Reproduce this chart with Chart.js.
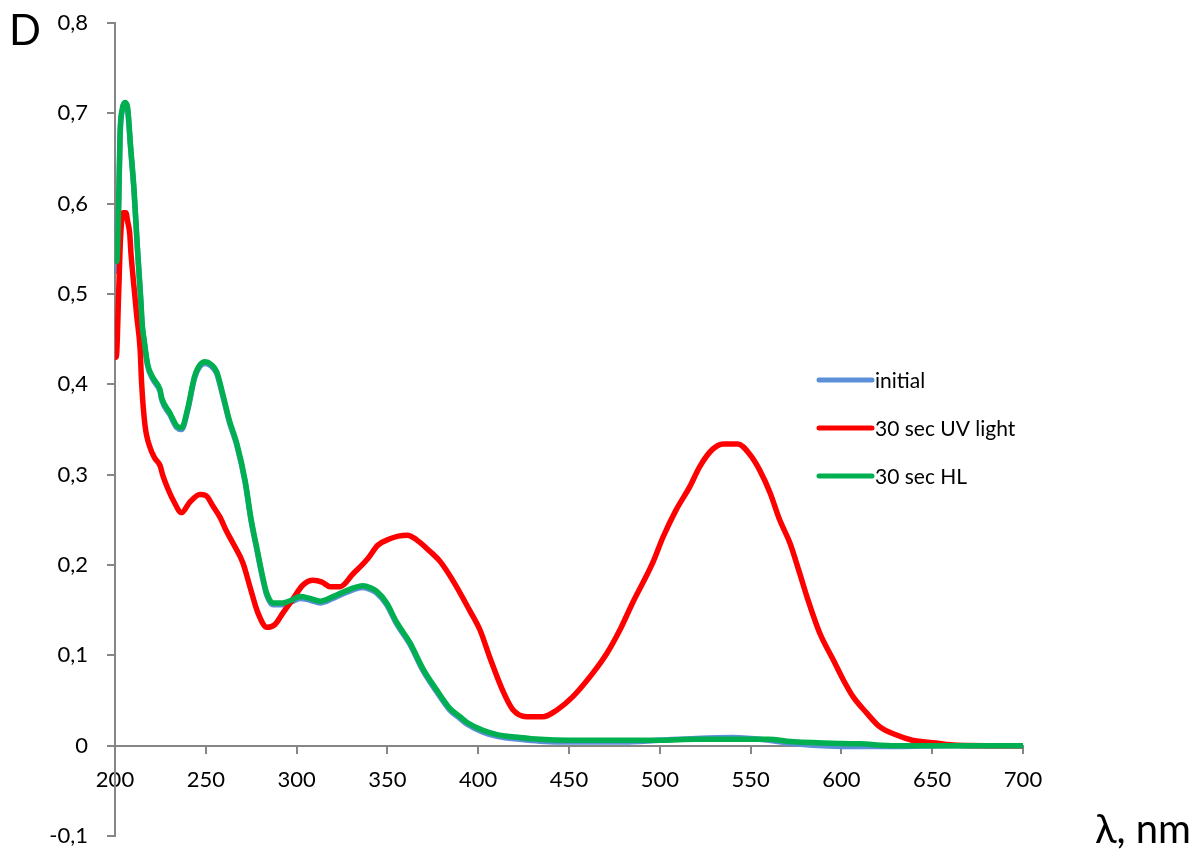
<!DOCTYPE html>
<html lang="en">
<head>
    <meta charset="UTF-8">
    <title>Absorption spectra</title>
    <script src="https://cdn.jsdelivr.net/npm/chart.js"></script>
    <style>
        body { margin: 0; background: #fff; }
        .chart-container { width: 1194px; height: 851px; position: relative; }
    </style>
</head>
<body>
    <div class="chart-container">
        <canvas id="spectraChart"></canvas>
    </div>

    <script>
        // Values (wavelength, nm / optical density D)
        const xTicks = [200, 250, 300, 350, 400, 450, 500, 550, 600, 650, 700];
        const yTicks = [-0.1, 0, 0.1, 0.2, 0.3, 0.4, 0.5, 0.6, 0.7, 0.8];

        const uvWl = [200, 200.7, 202, 203, 204.5, 206, 207, 208.1, 208.8, 210.6, 212, 213.8, 214.7, 216.5, 219.3, 222, 224.8, 226.5, 229, 232, 236.7, 241, 246.8, 250, 254, 257.8, 261.5, 265, 270.5, 274.3, 278.7, 283.7, 288, 292.5, 297.5, 303.6, 309, 314, 318.4, 324, 331, 338.8, 344.8, 351.4, 356, 361, 366, 373.5, 379, 386, 395.5, 401, 406.5, 413.7, 419, 426.7, 435.7, 443, 452, 463, 470.8, 478, 485, 496, 501.8, 509, 516.6, 522, 529, 535, 543, 549.7, 555, 560.7, 566, 571.7, 577, 581, 588, 595.5, 601, 606.5, 614, 621, 630, 639, 652, 660, 680, 700];
        const uvD  = [0.46, 0.43, 0.50, 0.56, 0.59, 0.59, 0.58, 0.567, 0.545, 0.505, 0.475, 0.44, 0.40, 0.355, 0.33, 0.318, 0.31, 0.298, 0.285, 0.272, 0.258, 0.269, 0.278, 0.277, 0.265, 0.253, 0.237, 0.224, 0.202, 0.176, 0.147, 0.131, 0.134, 0.147, 0.161, 0.178, 0.183, 0.181, 0.176, 0.176, 0.19, 0.206, 0.222, 0.229, 0.232, 0.233, 0.228, 0.215, 0.204, 0.183, 0.149, 0.128, 0.097, 0.06, 0.04, 0.032, 0.032, 0.039, 0.054, 0.08, 0.102, 0.128, 0.158, 0.202, 0.231, 0.261, 0.287, 0.309, 0.328, 0.334, 0.334, 0.322, 0.305, 0.28, 0.25, 0.224, 0.191, 0.165, 0.125, 0.095, 0.073, 0.054, 0.036, 0.021, 0.012, 0.006, 0.003, 0.001, 0, 0];

        const hlWl = [200, 201, 202, 202.8, 204, 205.5, 206.8, 208.6, 210.5, 212.3, 214.2, 215, 216, 218, 221, 224.8, 225.7, 230.3, 234, 236.7, 240, 244, 249.5, 253, 256, 259.5, 263, 267, 271.6, 275, 278, 281, 283.5, 287, 292.5, 297, 302, 307.4, 313, 320, 327.8, 336.6, 340.4, 344, 349.6, 355, 362.4, 369.6, 377, 384.5, 390, 393.7, 402.6, 411, 423, 434, 450, 480, 500, 520, 540, 560, 570, 590, 610, 630, 660, 700];
        const hlD  = [0.545, 0.536, 0.60, 0.678, 0.705, 0.712, 0.708, 0.663, 0.615, 0.553, 0.494, 0.466, 0.45, 0.422, 0.407, 0.394, 0.385, 0.368, 0.354, 0.352, 0.373, 0.41, 0.425, 0.422, 0.414, 0.388, 0.36, 0.335, 0.294, 0.25, 0.22, 0.19, 0.169, 0.158, 0.158, 0.161, 0.165, 0.163, 0.16, 0.165, 0.172, 0.177, 0.175, 0.171, 0.158, 0.137, 0.114, 0.085, 0.062, 0.041, 0.032, 0.026, 0.017, 0.012, 0.009, 0.007, 0.006, 0.006, 0.006, 0.007, 0.007, 0.007, 0.005, 0.003, 0.002, 0, 0, 0];
        // initial spectrum lies almost exactly under the HL one
        const initD = [0.53, 0.525, 0.595, 0.675, 0.703, 0.71, 0.706, 0.661, 0.613, 0.551, 0.492, 0.464, 0.448, 0.42, 0.405, 0.392, 0.383, 0.366, 0.352, 0.35, 0.371, 0.408, 0.423, 0.42, 0.412, 0.386, 0.358, 0.333, 0.292, 0.248, 0.218, 0.188, 0.167, 0.156, 0.156, 0.159, 0.163, 0.161, 0.158, 0.163, 0.17, 0.175, 0.173, 0.169, 0.156, 0.135, 0.112, 0.083, 0.06, 0.039, 0.03, 0.024, 0.015, 0.01, 0.007, 0.005, 0.004, 0.004, 0.006, 0.008, 0.009, 0.006, 0.003, 0, -0.001, -0.001, 0, 0];

        const seriesLabels = ['initial', '30 sec UV light', '30 sec HL'];
        const seriesColors = ['#5B8FD7', '#FF0000', '#00B050'];

        const toPoints = (xs, ys) => xs.map((x, i) => ({ x: x, y: ys[i] }));
        const fmt = v => {
            const r = Math.round(v * 10) / 10;
            return r === 0 ? '0' : r.toFixed(1).replace('.', ',');
        };

        const axisGrey = '#868686';
        const lineStyle = {
            borderWidth: 5.5,
            pointRadius: 0,
            fill: false,
            cubicInterpolationMode: 'monotone',
            borderCapStyle: 'round',
            borderJoinStyle: 'round'
        };

        // "D", "λ, nm" and the legend sit at fixed spots like in the original
        const annotations = {
            id: 'annotations',
            afterDatasetsDraw(chart) {
                const c = chart.ctx;
                c.save();
                c.fillStyle = '#000';
                c.textBaseline = 'alphabetic';
                c.font = '42px Lato';
                c.textAlign = 'left';
                c.fillText('D', 9, 45);
                c.font = '40px Lato';
                c.textAlign = 'right';
                c.fillText('λ, nm', 1191, 843);

                c.font = '21px Lato';
                c.textAlign = 'left';
                c.textBaseline = 'middle';
                chart.data.datasets.forEach((ds, i) => {
                    const y = 380 + i * 48;
                    c.strokeStyle = ds.borderColor;
                    c.lineWidth = 5;
                    c.lineCap = 'round';
                    c.beginPath();
                    c.moveTo(819, y);
                    c.lineTo(872, y);
                    c.stroke();
                    c.fillText(ds.label, 875, y + 1);
                });
                c.restore();
            }
        };

        const ctx = document.getElementById('spectraChart').getContext('2d');
        const spectraChart = new Chart(ctx, {
            type: 'line',
            data: {
                datasets: [
                    Object.assign({ label: seriesLabels[0], data: toPoints(hlWl, initD), borderColor: seriesColors[0], order: 3 }, lineStyle),
                    Object.assign({ label: seriesLabels[1], data: toPoints(uvWl, uvD), borderColor: seriesColors[1], order: 2 }, lineStyle),
                    Object.assign({ label: seriesLabels[2], data: toPoints(hlWl, hlD), borderColor: seriesColors[2], order: 1 }, lineStyle)
                ]
            },
            options: {
                responsive: true,
                maintainAspectRatio: false,
                animation: false,
                layout: { padding: { left: 0, top: 23, right: 171, bottom: 15 } },
                scales: {
                    x: {
                        type: 'linear',
                        position: { y: 0 },
                        min: 200,
                        max: 700,
                        afterBuildTicks: scale => { scale.ticks = xTicks.map(v => ({ value: v })); },
                        afterFit: scale => { scale.height = 0; },
                        ticks: {
                            color: '#000',
                            font: { family: 'Lato', size: 22 },
                            padding: 14,
                            maxRotation: 0,
                            autoSkip: false
                        },
                        grid: { drawOnChartArea: false, drawTicks: true, tickLength: 7, color: axisGrey, lineWidth: 2 },
                        border: { color: axisGrey, width: 2 }
                    },
                    y: {
                        min: -0.1,
                        max: 0.8,
                        afterBuildTicks: scale => { scale.ticks = yTicks.map(v => ({ value: v })); },
                        // fixed axis width; tick padding must not push the plot down
                        afterFit: scale => {
                            scale.width = 115;
                            scale.paddingTop = 0;
                            scale.paddingBottom = 0;
                        },
                        ticks: {
                            color: '#000',
                            font: { family: 'Lato', size: 22 },
                            padding: 19,
                            callback: v => fmt(v)
                        },
                        grid: { drawOnChartArea: false, drawTicks: true, tickLength: 8, color: axisGrey, lineWidth: 2 },
                        border: { color: axisGrey, width: 2 }
                    }
                },
                plugins: {
                    legend: { display: false },
                    tooltip: { enabled: false }
                }
            },
            plugins: [annotations]
        });
    </script>
</body>
</html>
